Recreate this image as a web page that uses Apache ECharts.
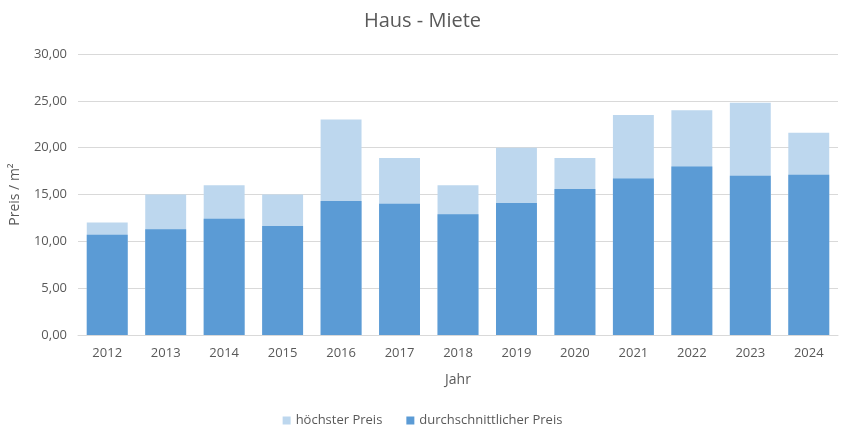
<!DOCTYPE html>
<html>
<head>
<meta charset="utf-8">
<script src="https://cdn.jsdelivr.net/npm/echarts@6/dist/echarts.min.js"></script>
<style>html,body{margin:0;padding:0;background:#fff}#c{width:845px;height:440px}</style>
</head>
<body>
<div id="c"></div>
<script>
const years = ['2012','2013','2014','2015','2016','2017','2018','2019','2020','2021','2022','2023','2024'];
const hoechster = [12, 15, 16, 15, 23, 18.9, 16, 20, 18.9, 23.5, 24, 24.8, 21.6];
const durchschnitt = [10.7, 11.3, 12.4, 11.65, 14.3, 14.0, 12.9, 14.1, 15.6, 16.7, 18.0, 17.0, 17.1];
const yTicks = [0, 5, 10, 15, 20, 25, 30];

const FONT = 'Open Sans';
const chart = echarts.init(document.getElementById('c'), null, {renderer: 'canvas'});
chart.setOption({
  animation: false,
  backgroundColor: '#fff',
  textStyle: {fontFamily: FONT},
  title: {
    text: 'Haus - Miete', left: 'center', top: 6,
    textStyle: {fontFamily: FONT, fontSize: 20, fontWeight: 'normal', color: '#595959'}
  },
  legend: {
    bottom: 8, left: 'center', itemWidth: 8, itemHeight: 8, itemGap: 24,
    icon: 'rect',
    textStyle: {fontFamily: FONT, fontSize: 13, color: '#595959'},
    data: ['höchster Preis', 'durchschnittlicher Preis']
  },
  grid: {left: 78, right: 7, top: 54, bottom: 105},
  xAxis: {
    type: 'category', data: years,
    name: 'Jahr', nameLocation: 'middle', nameGap: 38,
    nameTextStyle: {fontFamily: FONT, fontSize: 14, color: '#595959'},
    axisLine: {lineStyle: {color: '#d9d9d9'}},
    axisTick: {show: false},
    axisLabel: {fontFamily: FONT, fontSize: 13, color: '#595959', margin: 12}
  },
  yAxis: {
    type: 'value', min: yTicks[0], max: yTicks[yTicks.length - 1], interval: 5,
    name: 'Preis / m²', nameLocation: 'middle', nameGap: 56, nameRotate: 90,
    nameTextStyle: {fontFamily: FONT, fontSize: 14, color: '#595959'},
    axisLine: {show: false}, axisTick: {show: false},
    splitLine: {lineStyle: {color: '#d9d9d9'}},
    axisLabel: {fontFamily: FONT, fontSize: 13, color: '#595959', margin: 11,
      formatter: v => v.toFixed(2).replace('.', ',')}
  },
  series: [
    {name: 'höchster Preis', type: 'bar', data: hoechster, barWidth: '70%', barGap: '-100%',
     itemStyle: {color: '#BDD7EE'}},
    {name: 'durchschnittlicher Preis', type: 'bar', data: durchschnitt, barWidth: '70%',
     itemStyle: {color: '#5B9BD5'}}
  ]
});
</script>
</body>
</html>
